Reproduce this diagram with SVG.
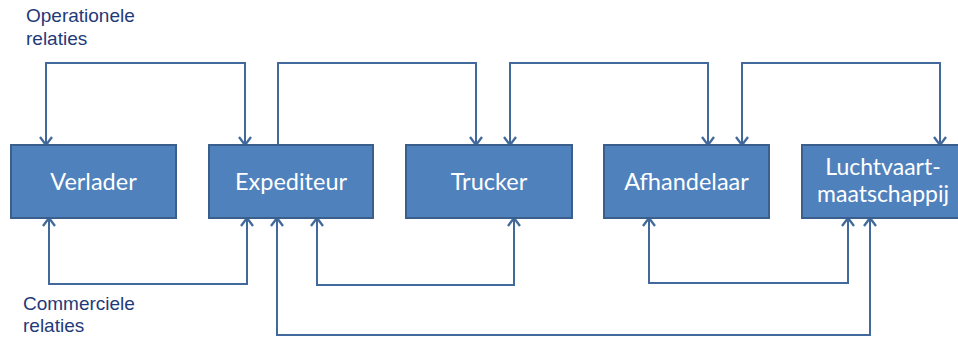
<svg xmlns="http://www.w3.org/2000/svg" width="958" height="337" viewBox="0 0 958 337">
<style>
.box{fill:#4F81BD;stroke:#3A5F8C;stroke-width:2}
.bt{font-family:Lato,"Open Sans",sans-serif;font-size:23.5px;fill:#FFFFFF;text-anchor:middle}
.bt2{font-family:Lato,"Open Sans",sans-serif;font-size:23px;fill:#FFFFFF;text-anchor:middle}
.lbl{font-family:"Liberation Sans",Arial,sans-serif;font-size:19px;fill:#1F3A78}
.c{fill:none;stroke:#41699B;stroke-width:2;stroke-linejoin:miter}
</style>
<defs>
<marker id="ah" viewBox="-10 -10 20 20" refX="0" refY="0" markerWidth="20" markerHeight="20" markerUnits="userSpaceOnUse" orient="auto-start-reverse">
<path d="M-8,-6 L0,0 L-8,6" fill="none" stroke="#41699B" stroke-width="2.3"/>
</marker>
</defs>
<g id="labels">
<text class="lbl" x="26" y="22">Operationele</text>
<text class="lbl" x="26" y="45">relaties</text>
<text class="lbl" x="23" y="310">Commerciele</text>
<text class="lbl" x="23" y="332">relaties</text>
</g>
<g id="connectors">
<path class="c" d="M46,145 V63 H245 V145" marker-start="url(#ah)" marker-end="url(#ah)"/>
<path class="c" d="M278,145 V63 H476 V145" marker-end="url(#ah)"/>
<path class="c" d="M510,145 V63 H708 V145" marker-start="url(#ah)" marker-end="url(#ah)"/>
<path class="c" d="M742,145 V63 H940 V145" marker-start="url(#ah)" marker-end="url(#ah)"/>
<path class="c" d="M49,218 V284 H247 V218" marker-start="url(#ah)" marker-end="url(#ah)"/>
<path class="c" d="M317,218 V285 H514 V218" marker-start="url(#ah)" marker-end="url(#ah)"/>
<path class="c" d="M649,218 V283 H848 V218" marker-start="url(#ah)" marker-end="url(#ah)"/>
<path class="c" d="M277,218 V335 H870 V218" marker-start="url(#ah)" marker-end="url(#ah)"/>
</g>
<g id="verlader">
<rect class="box" x="11" y="145" width="165" height="73"/>
<text class="bt" x="93.5" y="190">Verlader</text>
</g>
<g id="expediteur">
<rect class="box" x="209" y="145" width="164" height="73"/>
<text class="bt" x="291" y="190">Expediteur</text>
</g>
<g id="trucker">
<rect class="box" x="406" y="145" width="166" height="73"/>
<text class="bt" x="489" y="190">Trucker</text>
</g>
<g id="afhandelaar">
<rect class="box" x="604" y="145" width="165" height="73"/>
<text class="bt" x="686.5" y="190">Afhandelaar</text>
</g>
<g id="luchtvaartmaatschappij">
<rect class="box" x="802" y="145" width="165" height="73"/>
<text class="bt2" x="883" y="175">Luchtvaart-</text>
<text class="bt2" x="883" y="202">maatschappij</text>
</g>
</svg>
